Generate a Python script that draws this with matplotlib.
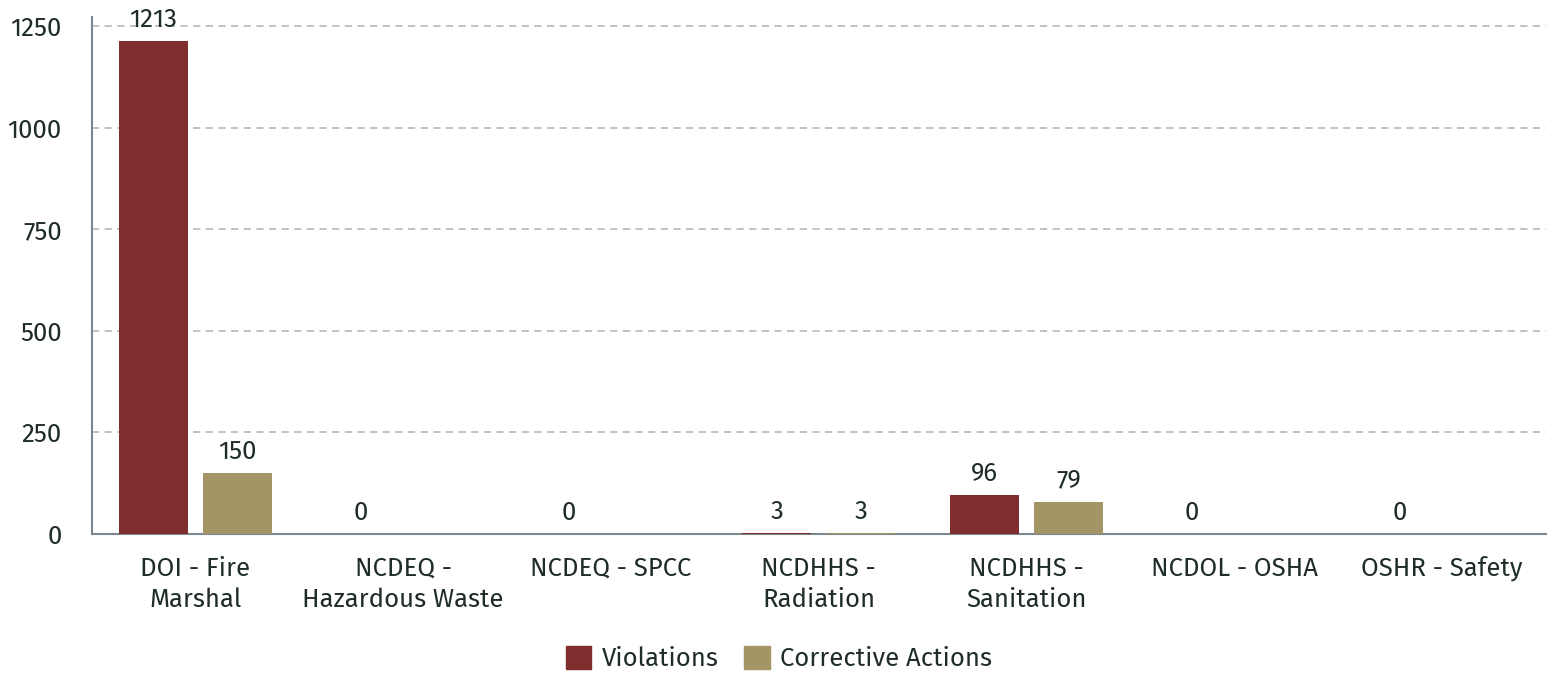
import matplotlib
matplotlib.use("Agg")
import matplotlib.pyplot as plt
import numpy as np
from matplotlib.patches import Patch

categories = ["DOI - Fire\nMarshal", "NCDEQ -\nHazardous Waste", "NCDEQ - SPCC",
              "NCDHHS -\nRadiation", "NCDHHS -\nSanitation", "NCDOL - OSHA", "OSHR - Safety"]
violations = [1213, 0, 0, 3, 96, 0, 0]
corrective = [150, None, None, 3, 79, None, None]
yticks = [0, 250, 500, 750, 1000, 1250]

c_v = "#7f2e2d"
c_c = "#a39565"
txt = "#1f2d2a"
FS = 18.5

plt.rcParams['font.family'] = ['Fira Sans', 'Open Sans', 'DejaVu Sans']

fig = plt.figure(figsize=(15.48, 6.73), dpi=100)
L, R, B, T = 91.5, 1546, 534, 16.7
ax = fig.add_axes([L/1548, (673-B)/673, (R-L)/1548, (B-T)/673])

x = np.arange(len(categories))
w = 0.333
off = 0.2024
cv = [0 if v is None else v for v in corrective]
ax.bar(x - off, violations, w, color=c_v, zorder=3)
ax.bar(x + off, cv, w, color=c_c, zorder=3)

for i, v in enumerate(violations):
    ax.annotate(str(v), (x[i] - off, v), xytext=(0, 6.5), textcoords="offset points",
                ha="center", va="bottom", fontsize=FS, color=txt)
for i, v in enumerate(corrective):
    if v is None:
        continue
    ax.annotate(str(v), (x[i] + off, v), xytext=(0, 6.5), textcoords="offset points",
                ha="center", va="bottom", fontsize=FS, color=txt)

ax.set_xlim(-0.5, len(categories) - 0.5)
ax.set_ylim(0, 1273)
ax.set_yticks(yticks)
ax.set_xticks(x)
ax.set_xticklabels(categories, fontsize=FS, color=txt, linespacing=1.32)
ax.tick_params(axis='y', labelsize=FS, labelcolor=txt, length=0, pad=21.5)
ax.tick_params(axis='x', length=0, pad=16)
ax.grid(axis='y', color="#bdbdbd", linestyle=(0, (4, 3)), linewidth=1.3, zorder=0)
for s in ["top", "right"]:
    ax.spines[s].set_visible(False)
for s in ["left", "bottom"]:
    ax.spines[s].set_color("#7d868c")
    ax.spines[s].set_linewidth(1.5)

handles = [Patch(color=c_v, label="Violations"), Patch(color=c_c, label="Corrective Actions")]
fig.legend(handles=handles, loc="center", bbox_to_anchor=(779/1548, 1 - 658.5/673), ncol=2,
           frameon=False, fontsize=FS, handlelength=1.0, handleheight=1.0,
           handletextpad=0.4, columnspacing=1.0, labelcolor=txt, borderpad=0)

fig.savefig("out.png", dpi=100)
